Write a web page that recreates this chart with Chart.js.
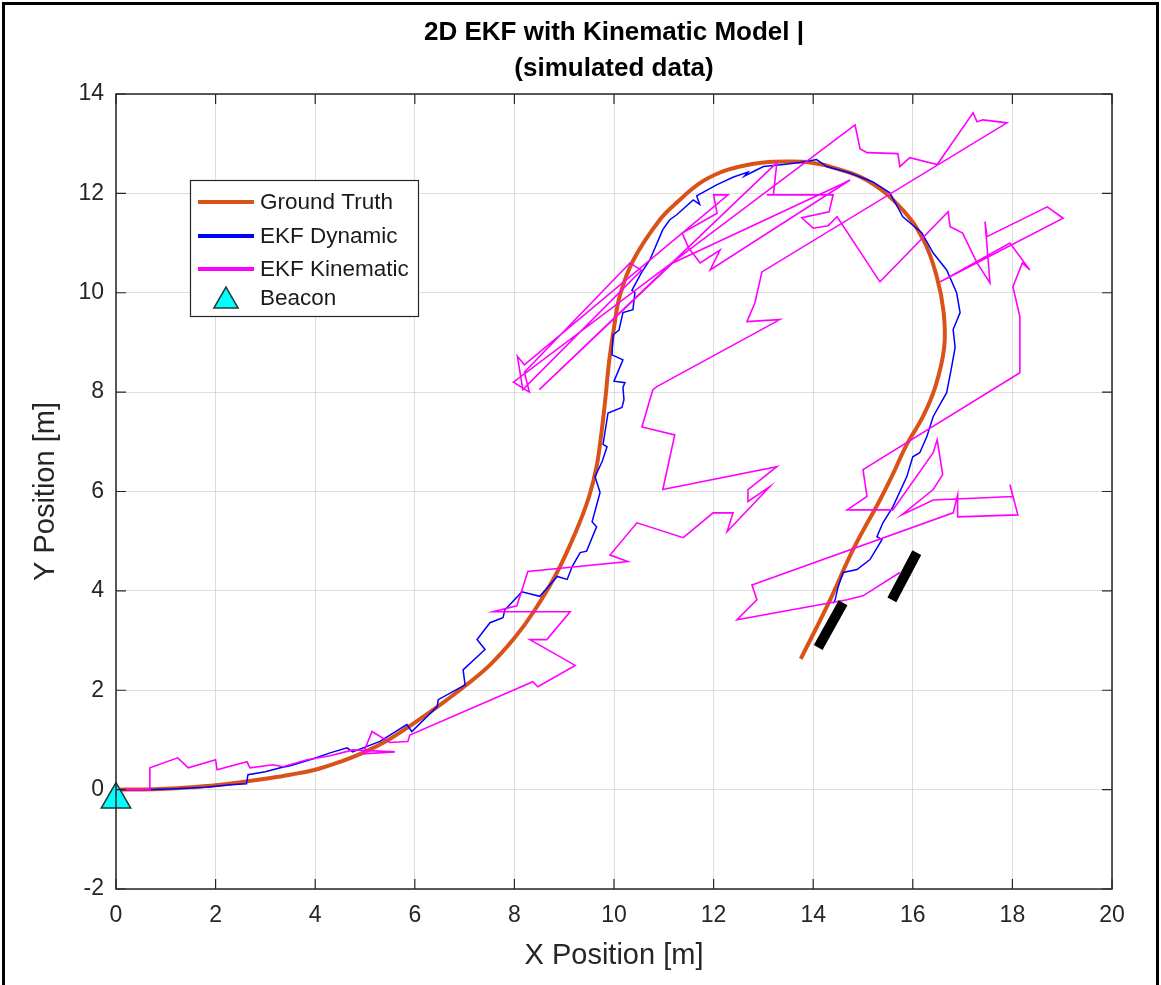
<!DOCTYPE html>
<html><head><meta charset="utf-8">
<script src="https://cdn.jsdelivr.net/npm/chart.js@4.4.1/dist/chart.umd.min.js"></script>
<style>
html,body{margin:0;padding:0;background:#fff;}
#wrap{position:relative;width:1161px;height:985px;overflow:hidden;}
#frame{position:absolute;left:2px;top:2px;width:1151px;height:995px;border:3px solid #000;pointer-events:none;}
canvas{position:absolute;left:0;top:0;}
</style></head><body>
<div id="wrap"><canvas id="c" width="1161" height="985"></canvas><div id="frame"></div></div>
<script>
const titleLines = ['2D EKF with Kinematic Model |', '(simulated data)'];
const xLabel = 'X Position [m]';
const yLabel = 'Y Position [m]';
const xTicks = [0, 2, 4, 6, 8, 10, 12, 14, 16, 18, 20];
const yTicks = [-2, 0, 2, 4, 6, 8, 10, 12, 14];
const seriesNames = ['Ground Truth', 'EKF Dynamic', 'EKF Kinematic', 'Beacon'];

const truthX = [0,0.5,1,1.5,2,2.5,3,3.5,4,4.5,5,5.5,6,6.5,7,7.5,8,8.4,8.85,9.25,9.5,9.65,9.75,9.83,9.9,10.0,10.12,10.39,10.92,11.3,11.73,12.13,12.53,13.0,13.5,13.94,14.4,15.07,15.74,16.21,16.48,16.62,16.63,16.45,16.2,15.88,15.6,15.34,14.8,14.34,13.75];
const truthY = [0,0.005,0.02,0.05,0.09,0.15,0.22,0.3,0.4,0.56,0.76,1.02,1.35,1.7,2.08,2.5,3.05,3.6,4.36,5.23,5.9,6.5,7.2,7.9,8.6,9.3,9.95,10.66,11.47,11.85,12.21,12.42,12.54,12.62,12.64,12.62,12.52,12.27,11.73,11.07,10.33,9.6,8.9,8.1,7.5,6.95,6.35,5.83,4.83,3.82,2.63];

const dynX = [0,0.6,1.2,1.8,2.3,2.62,2.65,3.0,3.3,3.5,3.96,4.3,4.64,4.75,5.3,5.84,5.94,6.45,6.47,7.01,6.97,7.41,7.25,7.51,7.77,7.81,8.15,8.51,8.86,9.06,9.16,9.32,9.45,9.65,9.56,9.72,9.62,9.76,9.86,9.78,9.88,10.16,10.2,10.18,10.22,10.0,10.18,9.96,9.98,10.1,10.18,10.38,10.42,10.36,10.56,10.72,10.92,10.98,11.12,11.26,11.59,11.72,11.66,12.06,12.4,12.69,12.62,13.0,13.4,13.73,14.07,14.27,14.74,15.2,15.54,15.8,16.18,16.41,16.68,16.88,16.95,16.81,16.85,16.78,16.68,16.41,16.28,16.14,16.0,15.88,15.6,15.4,15.28,15.38,15.14,14.88,14.6,14.5,14.44,14.4];
const dynY = [0,0,0.02,0.05,0.1,0.12,0.3,0.36,0.44,0.48,0.62,0.74,0.84,0.76,0.97,1.31,1.17,1.67,1.81,2.11,2.41,2.82,3.02,3.36,3.46,3.62,3.98,3.89,4.29,4.23,4.49,4.77,4.8,5.29,5.39,5.98,6.3,6.6,6.9,6.95,7.58,7.69,7.85,8.1,8.19,8.22,8.65,8.75,9.15,9.25,9.6,9.66,10.0,10.05,10.42,10.66,11.13,11.27,11.47,11.57,11.87,11.78,11.95,12.17,12.33,12.43,12.35,12.54,12.58,12.62,12.68,12.54,12.41,12.23,12.01,11.53,11.21,10.8,10.46,10.0,9.6,9.26,8.9,8.51,7.99,7.51,7.1,6.78,6.7,6.3,5.69,5.37,5.09,5.03,4.63,4.43,4.37,4.08,3.82,3.75];

const kinX = [0,0.68,0.68,1.24,1.45,2.0,2.03,2.63,2.69,3.15,3.35,3.84,4.3,4.76,5.6,4.96,5.14,5.5,5.86,5.9,8.37,8.47,9.22,8.31,8.65,9.12,7.57,8.05,8.27,10.28,9.92,10.46,11.39,11.99,12.39,12.27,13.13,12.69,12.69,13.27,10.98,11.22,10.56,10.78,10.86,13.33,12.67,12.83,12.97,17.89,17.41,17.29,17.21,16.49,15.94,15.74,15.7,15.08,14.94,14.84,7.98,8.3,8.2,10.32,10.55,8.17,8.06,8.2,12.29,12.0,12.07,11.37,11.5,11.73,12.13,11.93,14.74,14.6,11.18,8.5,13.27,13.2,13.07,14.4,14.32,13.77,14.0,14.3,14.48,15.34,16.71,16.75,17.0,17.29,17.55,17.45,17.49,18.7,19.02,16.55,17.95,18.35,18.2,18.01,18.15,18.15,15.0,15.08,14.68,15.6,16.41,16.49,16.6,16.41,15.78,16.41,18.01,17.95,18.11,16.89,16.9,16.81,12.77,12.87,12.47,14.68,15.0,15.74];
const kinY = [0,0,0.44,0.64,0.44,0.6,0.4,0.56,0.44,0.5,0.46,0.6,0.68,0.8,0.76,0.72,1.17,0.95,0.97,1.1,2.17,2.07,2.5,3.02,3.02,3.58,3.58,3.7,4.39,4.59,4.72,5.37,5.07,5.57,5.57,5.19,6.1,5.8,6.04,6.5,6.04,7.14,7.3,8.05,8.11,9.46,9.42,9.8,10.42,13.42,13.48,13.44,13.62,12.58,12.72,12.54,12.8,12.82,12.9,13.38,8.2,8.0,8.4,10.6,10.45,8.05,8.72,8.55,11.97,11.97,11.6,11.2,10.9,10.6,10.86,10.46,12.27,12.2,10.6,8.05,12.62,11.97,11.97,11.97,11.63,11.51,11.3,11.35,11.53,10.22,11.63,11.33,11.2,10.6,10.2,11.43,11.13,11.73,11.5,10.22,11.0,10.46,10.6,10.12,9.52,8.39,6.44,5.9,5.63,5.63,6.78,7.04,6.34,6.04,5.53,5.83,5.9,6.14,5.53,5.49,5.93,5.57,4.12,3.82,3.42,3.82,3.9,4.37];

const beaconX = [0];
const beaconY = [-0.2];

const bar1X = [14.1, 14.6];
const bar1Y = [2.86, 3.76];
const bar2X = [15.58, 16.08];
const bar2Y = [3.82, 4.77];

const pts = (xs, ys) => xs.map((x, i) => ({x: x, y: ys[i]}));
const FONT = '"Liberation Sans", Arial, Helvetica, sans-serif';
const AX = '#262626';

const frameAndTicks = {
  id: 'frameAndTicks',
  afterDraw(chart) {
    const {ctx, chartArea: a, scales: {x, y}} = chart;
    ctx.save();
    ctx.strokeStyle = AX;
    ctx.lineWidth = 1.5;
    ctx.strokeRect(a.left, a.top, a.right - a.left, a.bottom - a.top);
    ctx.lineWidth = 1.2;
    ctx.beginPath();
    xTicks.forEach(v => {
      const px = x.getPixelForValue(v);
      ctx.moveTo(px, a.bottom); ctx.lineTo(px, a.bottom - 10);
      ctx.moveTo(px, a.top); ctx.lineTo(px, a.top + 10);
    });
    yTicks.forEach(v => {
      const py = y.getPixelForValue(v);
      ctx.moveTo(a.left, py); ctx.lineTo(a.left + 10, py);
      ctx.moveTo(a.right, py); ctx.lineTo(a.right - 10, py);
    });
    ctx.stroke();
    // legend
    const lx = 190, ly = 180, lw = 228, lh = 136;
    ctx.fillStyle = '#fff';
    ctx.fillRect(lx, ly, lw, lh);
    ctx.strokeStyle = AX;
    ctx.lineWidth = 1.2;
    ctx.strokeRect(lx + 0.5, ly + 0.5, lw, lh);
    const rows = [202, 236, 269, 298];
    const cols = ['#D95319', '#0000FF', '#FF00FF'];
    ctx.lineWidth = 4;
    for (let i = 0; i < 3; i++) {
      ctx.strokeStyle = cols[i];
      ctx.beginPath(); ctx.moveTo(198, rows[i]); ctx.lineTo(254, rows[i]); ctx.stroke();
    }
    ctx.beginPath();
    const cx = 226, cy = rows[3] + 3, r = 14;
    ctx.moveTo(cx, cy - r);
    ctx.lineTo(cx + r * Math.sin(2 * Math.PI / 3), cy - r * Math.cos(2 * Math.PI / 3));
    ctx.lineTo(cx + r * Math.sin(4 * Math.PI / 3), cy - r * Math.cos(4 * Math.PI / 3));
    ctx.closePath();
    ctx.fillStyle = '#00FFFF'; ctx.fill();
    ctx.strokeStyle = '#1f3a3a'; ctx.lineWidth = 1.5; ctx.stroke();
    ctx.fillStyle = '#1a1a1a';
    ctx.font = '22.5px ' + FONT;
    ctx.textBaseline = 'middle';
    ctx.textAlign = 'left';
    seriesNames.forEach((n, i) => ctx.fillText(n, 260, rows[i] + 1));
    ctx.restore();
  }
};

new Chart(document.getElementById('c'), {
  type: 'scatter',
  data: {
    datasets: [
      {label: 'bar1', data: pts(bar1X, bar1Y), showLine: true, borderColor: '#000', borderWidth: 10, pointRadius: 0, borderCapStyle: 'butt', order: 0},
      {label: 'bar2', data: pts(bar2X, bar2Y), showLine: true, borderColor: '#000', borderWidth: 10, pointRadius: 0, borderCapStyle: 'butt', order: 0},
      {label: seriesNames[3], data: pts(beaconX, beaconY), pointStyle: 'triangle', pointRadius: 17, backgroundColor: '#00FFFF', borderColor: '#1f3a3a', borderWidth: 1.5, order: 1},
      {label: seriesNames[2], data: pts(kinX, kinY), showLine: true, borderColor: '#FF00FF', borderWidth: 1.6, pointRadius: 0, tension: 0, order: 2},
      {label: seriesNames[1], data: pts(dynX, dynY), showLine: true, borderColor: '#0000FF', borderWidth: 1.5, pointRadius: 0, tension: 0, order: 3},
      {label: seriesNames[0], data: pts(truthX, truthY), showLine: true, borderColor: '#D95319', borderWidth: 4, pointRadius: 0, tension: 0.4, order: 4}
    ]
  },
  options: {
    responsive: false,
    animation: false,
    clip: false,
    layout: {padding: {left: 0, right: 49, top: 0, bottom: 0}},
    plugins: {
      legend: {display: false},
      tooltip: {enabled: false},
      title: {
        display: true,
        fullSize: false,
        text: titleLines,
        color: '#000',
        font: {family: FONT, size: 26, weight: 'bold', lineHeight: 1.385},
        padding: {top: 15, bottom: 7}
      }
    },
    scales: {
      x: {
        type: 'linear', min: 0, max: 20,
        afterFit(s) { s.height = 96; },
        afterBuildTicks(s) { s.ticks = xTicks.map(v => ({value: v})); },
        grid: {color: 'rgba(0,0,0,0.13)', drawTicks: false, lineWidth: 1},
        border: {display: false},
        ticks: {color: AX, font: {family: FONT, size: 23}, padding: 13, maxRotation: 0},
        title: {display: true, text: xLabel, color: AX, font: {family: FONT, size: 29}, padding: {top: 0, bottom: 12}}
      },
      y: {
        type: 'linear', min: -2, max: 14,
        afterFit(s) { s.width = 116; },
        afterBuildTicks(s) { s.ticks = yTicks.map(v => ({value: v})); },
        grid: {color: 'rgba(0,0,0,0.13)', drawTicks: false, lineWidth: 1},
        border: {display: false},
        ticks: {color: AX, font: {family: FONT, size: 23}, padding: 12},
        title: {display: true, text: yLabel, color: AX, font: {family: FONT, size: 29}, padding: {top: 29, bottom: 0}}
      }
    }
  },
  plugins: [frameAndTicks]
});
</script>
</body></html>
